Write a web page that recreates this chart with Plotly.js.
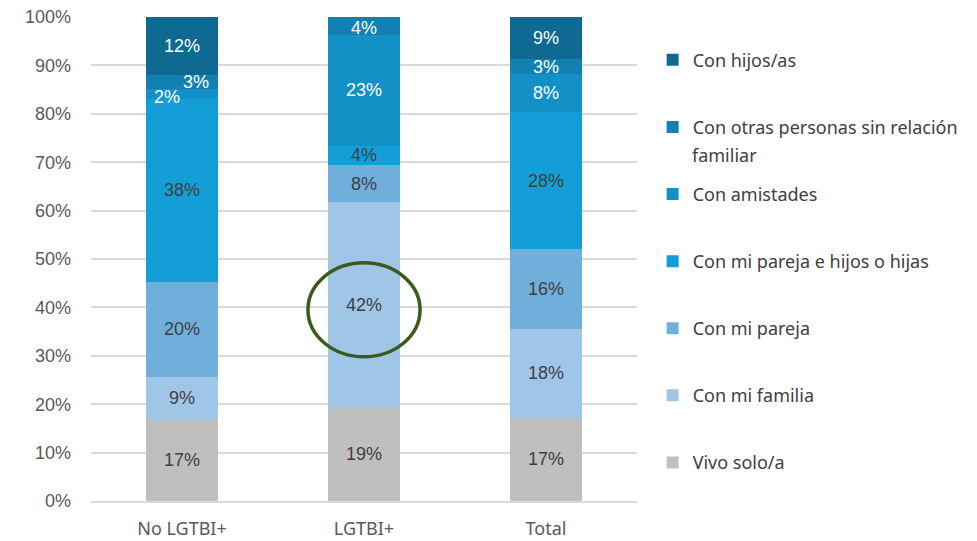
<!DOCTYPE html>
<html>
<head>
<meta charset="utf-8">
<script src="https://cdn.plot.ly/plotly-3.0.1.min.js"></script>
<style>html,body{margin:0;padding:0;background:#fff;}#chart{width:977px;height:541px;}</style>
</head>
<body>
<div id="chart"></div>
<script>
// Categories
const categories = ["No LGTBI+", "LGTBI+", "Total"];

// Series (bottom to top), values in %
const seriesNames = [
  "Vivo solo/a",
  "Con mi familia",
  "Con mi pareja",
  "Con mi pareja e hijos o hijas",
  "Con amistades",
  "Con otras personas sin relación",
  "Con hijos/as"
];
const vivoSolo      = [16.8, 19.3, 17.2];
const conFamilia    = [8.8, 42.4, 18.4];
const conPareja     = [19.7, 7.7, 16.4];
const conParejaHijos= [37.8, 4.0, 28.3];
const conAmistades  = [2.1, 22.9, 7.9];
const conOtras      = [2.9, 3.7, 3.1];
const conHijos      = [11.9, 0, 8.7];

const yTicks = [0,10,20,30,40,50,60,70,80,90,100];

const seriesValues = [vivoSolo, conFamilia, conPareja, conParejaHijos, conAmistades, conOtras, conHijos];
const colors = ["#BFBFBF", "#9FC6E7", "#70AFDC", "#139ED7", "#1391C7", "#1281B2", "#0E6A93"];
const textColors = ["#404040", "#404040", "#404040", "#404040", "#FFFFFF", "#FFFFFF", "#FFFFFF"];

// label offsets (manually moved labels in the original: No LGTBI+ amistades & otras)
const labelShifts = {
  "4-0": {xshift: -15, yshift: -3},
  "5-0": {xshift: 14, yshift: 0},
  "5-1": {xshift: 0, yshift: -2}
};

const labelFont = "Liberation Sans, Arial, sans-serif";
const uiFont = "Noto Sans, Open Sans, sans-serif";

const traces = seriesValues.map((vals, i) => ({
  type: "bar",
  name: seriesNames[i],
  x: categories,
  y: vals,
  marker: {color: colors[i], line: {width: 0}},
  hoverinfo: "name+y",
  legendgroup: "g" + i,
  legendrank: 100 - i
}));

// data labels, positioned at the middle of each stacked segment
const annotations = [];
seriesValues.forEach((vals, i) => {
  vals.forEach((v, j) => {
    if (v <= 0) return;
    let base = 0;
    for (let k = 0; k < i; k++) base += seriesValues[k][j];
    const s = labelShifts[i + "-" + j] || {xshift: 0, yshift: 0};
    annotations.push({
      x: categories[j], y: base + v / 2, xref: "x", yref: "y",
      text: Math.round(v) + "%", showarrow: false,
      xshift: s.xshift, yshift: s.yshift,
      font: {family: labelFont, size: 18, color: textColors[i]}
    });
  });
});
// second line of the long legend label
annotations.push({
  xref: "paper", yref: "paper", x: 1.1026, y: 0.7149,
  xanchor: "left", yanchor: "middle", showarrow: false,
  xshift: -3,
  text: "familiar",
  font: {family: uiFont, size: 18, color: "#404040"}
});

const layout = {
  width: 977, height: 541,
  margin: {l: 91, r: 340, t: 17, b: 40, pad: 0},
  paper_bgcolor: "#FFFFFF", plot_bgcolor: "#FFFFFF",
  barmode: "stack",
  bargap: 0.604,
  showlegend: true,
  legend: {
    xref: "container", yref: "container",
    x: 0.668, y: 0.923, xanchor: "left", yanchor: "top",
    traceorder: "grouped",
    tracegroupgap: 40.7,
    maxheight: 541,
    font: {family: uiFont, size: 18, color: "#404040"},
    bgcolor: "rgba(0,0,0,0)"
  },
  xaxis: {
    type: "category",
    showgrid: false,
    showline: true, linecolor: "#D9D9D9", linewidth: 2,
    ticks: "",
    ticklabelstandoff: 10,
    tickfont: {family: uiFont, size: 18, color: "#595959"},
    zeroline: false
  },
  yaxis: {
    range: [0, 100],
    tickvals: yTicks,
    ticktext: yTicks.map(t => t + "%"),
    showgrid: true, gridcolor: "#D9D9D9", gridwidth: 2,
    zeroline: false, showline: false,
    ticks: "",
    ticklabelstandoff: 19,
    tickfont: {family: labelFont, size: 18, color: "#595959"}
  },
  shapes: [{
    type: "circle", xref: "x", yref: "y",
    x0: 0.692, x1: 1.308, y0: 29.8, y1: 49.2,
    line: {color: "#3A5A1E", width: 3.5},
    fillcolor: "rgba(0,0,0,0)"
  }],
  annotations: annotations
};

Plotly.newPlot("chart", traces, layout, {displayModeBar: false, staticPlot: true});
</script>
</body>
</html>
